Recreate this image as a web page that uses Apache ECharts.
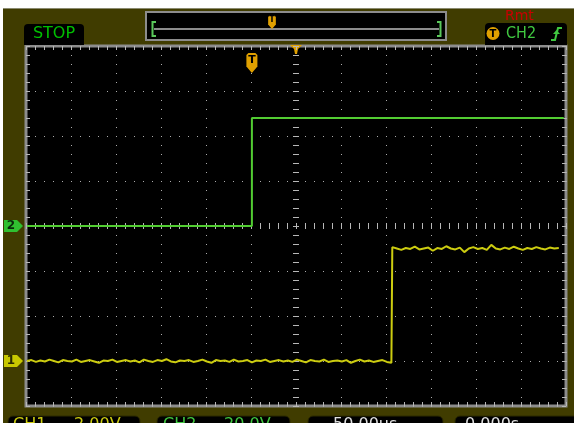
<!DOCTYPE html>
<html>
<head>
<meta charset="utf-8">
<style>
html, body { margin: 0; padding: 0; background: #fff; }
#main { width: 574px; height: 423px; }
</style>
<script src="https://cdn.jsdelivr.net/npm/echarts@6/dist/echarts.min.js"></script>
</head>
<body>
<div id="main"></div>
<script>
// screen is 12 x 8 divisions, all values below are in divisions
var ch1Low = [
    -3.00, -2.98, -3.02, -2.99, -3.01, -2.97, -3.00, -3.03, -2.98, -3.00,
    -3.01, -2.97, -3.02, -3.00, -2.98, -3.01, -3.04, -2.99, -3.00, -2.97,
    -3.02, -3.00, -2.98, -3.01, -2.99, -3.03, -2.97, -3.00, -3.02, -2.98,
    -3.00, -2.96, -3.01, -3.03, -2.99, -3.00, -2.98, -3.02, -3.00, -2.97,
    -3.01, -3.04, -2.98, -3.00, -2.99, -3.02, -2.97, -3.01, -3.00, -2.98,
    -3.03, -2.99, -3.00, -2.97, -3.02, -3.00, -2.98, -3.01, -2.99, -3.02,
    -2.97, -3.00, -3.03, -2.98, -3.00, -3.01, -2.97, -3.02, -3.00, -2.99,
    -3.01, -2.98, -3.04, -3.00, -2.97, -3.01, -2.99, -3.02, -3.00, -2.98,
    -3.02, -3.04
];
var ch1High = [
    -0.47, -0.50, -0.53, -0.49, -0.51, -0.46, -0.52, -0.50, -0.48, -0.55,
    -0.49, -0.51, -0.45, -0.50, -0.52, -0.48, -0.58, -0.50, -0.47, -0.51,
    -0.49, -0.53, -0.42, -0.50, -0.52, -0.48, -0.51, -0.46, -0.50, -0.53,
    -0.49, -0.51, -0.47, -0.50, -0.52, -0.48, -0.50, -0.49
];
var ch1LowStart = -5.98, ch1HighStart = 2.14, sampleStep = 0.1;
var ch2Trace = [[-5.98, 0], [-0.98, 0], [-0.98, 2.4], [5.95, 2.4]];
var ch1Offset = -3, ch2Offset = 0;
var triggerTime = -0.98;
var bottomLabels = [['CH1', '2.00V'], ['CH2', '20.0V'], ['50.00us', ''], ['0.000s', '']];

var olive = '#403c00';
var yellow = '#cccc10';
var green = '#52cc32';
var orange = '#e0a000';
var tickGray = '#b8b8b8';
var dotGray = '#acacac';

var ch1Data = [];
for (var i = 0; i < ch1Low.length; i++) ch1Data.push([ch1LowStart + i * sampleStep, ch1Low[i]]);
for (var j = 0; j < ch1High.length; j++) ch1Data.push([ch1HighStart + j * sampleStep, ch1High[j]]);

function scopeAxis(min, max, pos, inside, len, extra) {
    var ax = {
        type: 'value',
        min: min,
        max: max,
        interval: 1,
        position: pos,
        axisLabel: { show: false },
        axisLine: { show: false, onZero: false },
        axisTick: { show: true, inside: inside, length: len, lineStyle: { color: tickGray, width: 1 } },
        minorTick: { show: true, splitNumber: 5, length: len, lineStyle: { color: tickGray, width: 1 } },
        splitLine: { show: false }
    };
    for (var k in extra) ax[k] = extra[k];
    return ax;
}
var dotted = { show: true, lineStyle: { color: dotGray, width: 1, type: [1, 8] } };
var onZero = { show: false, onZero: true, onZeroAxisIndex: 0 };

var myChart = echarts.init(document.getElementById('main'));

var option = {
    backgroundColor: olive,
    animation: false,
    grid: {
        left: 26,
        top: 46,
        width: 540,
        height: 360,
        show: true,
        backgroundColor: '#000',
        borderColor: '#8c8c8c',
        borderWidth: 3,
        outerBoundsMode: 'none'
    },
    xAxis: [
        scopeAxis(-6, 6, 'bottom', true, 4, { splitLine: dotted }),
        scopeAxis(-6, 6, 'top', true, 4, {}),
        scopeAxis(-6, 6, 'bottom', true, 3, { axisLine: onZero, z: 3 }),
        scopeAxis(-6, 6, 'bottom', false, 3, { axisLine: onZero, z: 3 })
    ],
    yAxis: [
        scopeAxis(-4, 4, 'left', true, 4, { splitLine: dotted }),
        scopeAxis(-4, 4, 'right', true, 4, {}),
        scopeAxis(-4, 4, 'left', true, 3, { axisLine: onZero, z: 3 }),
        scopeAxis(-4, 4, 'left', false, 3, { axisLine: onZero, z: 3 })
    ],
    series: [
        {
            name: 'CH1',
            type: 'line',
            silent: true,
            showSymbol: false,
            lineStyle: { color: yellow, width: 2 },
            data: ch1Data
        },
        {
            name: 'CH2',
            type: 'line',
            silent: true,
            showSymbol: false,
            lineStyle: { color: green, width: 2 },
            data: ch2Trace
        }
    ]
};
myChart.setOption(option);

function chanMarker(y, fill, label, textColor) {
    return {
        type: 'group',
        children: [
            { type: 'polygon', shape: { points: [[4, y - 6], [17, y - 6], [23, y], [17, y + 6], [4, y + 6]] }, style: { fill: fill } },
            { type: 'text', x: 11, y: y, style: { text: label, fill: textColor, font: 'bold 12px "DejaVu Sans"', align: 'center', verticalAlign: 'middle' } }
        ]
    };
}
function tMarker(x, top, h) {
    var w = h * 0.55;
    return {
        type: 'group',
        children: [
            { type: 'polygon', shape: { points: [[x - w / 2, top + 2], [x - w / 2 + 2, top], [x + w / 2 - 2, top], [x + w / 2, top + 2], [x + w / 2, top + h * 0.68], [x, top + h], [x - w / 2, top + h * 0.68]] }, style: { fill: orange } },
            { type: 'text', x: x, y: top + h * 0.38, style: { text: 'T', fill: '#000', font: 'bold ' + Math.round(h * 0.55) + 'px "DejaVu Sans"', align: 'center', verticalAlign: 'middle' } }
        ]
    };
}

var p1 = myChart.convertToPixel({ xAxisIndex: 0, yAxisIndex: 0 }, [-6, ch1Offset]);
var p2 = myChart.convertToPixel({ xAxisIndex: 0, yAxisIndex: 0 }, [-6, ch2Offset]);
var pt = myChart.convertToPixel({ xAxisIndex: 0, yAxisIndex: 0 }, [triggerTime, 4]);
var pc = myChart.convertToPixel({ xAxisIndex: 0, yAxisIndex: 0 }, [0, 4]);

var narrow = '"Liberation Sans Narrow", "DejaVu Sans Condensed", sans-serif';
var graphics = [
    { type: 'rect', shape: { x: 0, y: 0, width: 574, height: 8 }, style: { fill: '#fff' } },
    { type: 'rect', shape: { x: 0, y: 0, width: 3, height: 423 }, style: { fill: '#fff' } },
    { type: 'rect', shape: { x: 3, y: 8, width: 571, height: 1 }, style: { fill: '#8a8a70' } },
    // status box
    { type: 'rect', shape: { x: 24, y: 24, width: 60, height: 21, r: [4, 4, 0, 0] }, style: { fill: '#000' } },
    { type: 'text', x: 54, y: 34, style: { text: 'STOP', fill: '#00c000', font: '16px "DejaVu Sans"', align: 'center', verticalAlign: 'middle' } },
    // memory bar
    { type: 'rect', shape: { x: 146, y: 12, width: 300, height: 28 }, style: { fill: '#000', stroke: '#8c8c8c', lineWidth: 2 } },
    { type: 'rect', shape: { x: 154, y: 28, width: 285, height: 2 }, style: { fill: '#8c8c8c' } },
    { type: 'polyline', shape: { points: [[156, 22], [152.5, 22], [152.5, 36], [156, 36]] }, style: { stroke: '#5ac85a', lineWidth: 2, fill: null } },
    { type: 'polyline', shape: { points: [[437, 22], [440.5, 22], [440.5, 36], [437, 36]] }, style: { stroke: '#5ac85a', lineWidth: 2, fill: null } },
    tMarker(272, 15, 14),
    // remote
    { type: 'text', x: 505, y: 16, style: { text: 'Rmt', fill: '#c80000', font: '14px "DejaVu Sans"', verticalAlign: 'middle' } },
    // trigger box
    { type: 'rect', shape: { x: 485, y: 23, width: 82, height: 22, r: [4, 4, 0, 0] }, style: { fill: '#000' } },
    { type: 'circle', shape: { cx: 493, cy: 33.5, r: 6.5 }, style: { fill: orange } },
    { type: 'text', x: 493, y: 34, style: { text: 'T', fill: '#000', font: 'bold 10px "DejaVu Sans"', align: 'center', verticalAlign: 'middle' } },
    { type: 'text', x: 506, y: 34, style: { text: 'CH2', fill: '#40c840', font: '16px ' + narrow, verticalAlign: 'middle' } },
    { type: 'polyline', shape: { points: [[551, 40], [555, 40], [558, 28], [562, 28]] }, style: { stroke: '#40c840', lineWidth: 2, fill: null } },
    { type: 'polygon', shape: { points: [[553, 34], [560, 34], [556.5, 30]] }, style: { fill: '#40c840' } },
    // trigger position markers
    { type: 'polygon', shape: { points: [[pc[0] - 6, 45], [pc[0] + 6, 45], [pc[0] + 2, 49], [pc[0] + 1, 54], [pc[0] - 1, 54], [pc[0] - 2, 49]] }, style: { fill: orange } },
    tMarker(pt[0], 53, 20),
    chanMarker(p2[1], '#30c030', '2', '#0a2a0a'),
    chanMarker(p1[1], '#c8c800', '1', '#2a2a00')
];

var boxes = [[8, 132, yellow, 13, 74], [157, 133, '#40c840', 163, 224], [308, 135, '#e0e0e0', 333, 0], [455, 125, '#e0e0e0', 465, 0]];
for (var b = 0; b < boxes.length; b++) {
    var bx = boxes[b];
    graphics.push({ type: 'rect', shape: { x: bx[0], y: 416, width: bx[1], height: 20, r: 5 }, style: { fill: '#000', stroke: '#2c2a00', lineWidth: 1 } });
    graphics.push({ type: 'text', x: bx[3], y: 417, style: { text: bottomLabels[b][0], fill: bx[2], font: '16px "DejaVu Sans"', verticalAlign: 'top' } });
    if (bottomLabels[b][1]) {
        graphics.push({ type: 'text', x: bx[4], y: 417, style: { text: bottomLabels[b][1], fill: bx[2], font: '16px "DejaVu Sans"', verticalAlign: 'top' } });
    }
}

myChart.setOption({ graphic: graphics });
</script>
</body>
</html>
